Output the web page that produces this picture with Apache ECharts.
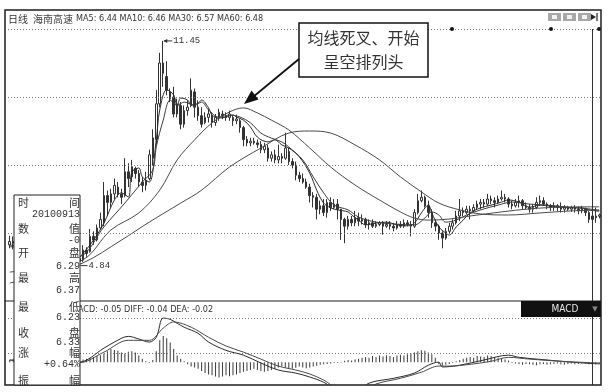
<!DOCTYPE html>
<html><head><meta charset="utf-8">
<script src="https://cdn.jsdelivr.net/npm/echarts@6/dist/echarts.min.js"></script>
<style>html,body{margin:0;padding:0;background:#fff}#c{width:610px;height:392px}</style>
</head><body><div id="c"></div><script>
// 海南高速 daily K-line with MA5/10/30/60 and MACD
const candles = [ // [open, close, low, high]
[5.45,5.55,5.35,5.72],[5.55,5.50,5.32,5.70],[5.50,5.60,5.42,5.68],[5.60,5.45,5.38,5.65],[5.45,5.40,5.30,5.52],
[5.40,5.35,5.25,5.48],[5.35,5.42,5.28,5.50],[5.42,5.30,5.22,5.46],[5.30,5.25,5.15,5.38],[5.25,5.20,5.10,5.32],
[5.20,5.28,5.14,5.36],[5.28,5.15,5.08,5.32],[5.15,5.10,5.02,5.22],[5.10,5.18,5.04,5.26],[5.18,5.05,4.98,5.22],
[5.05,5.00,4.92,5.12],[5.00,5.08,4.95,5.15],[5.08,4.98,4.90,5.12],[4.98,5.02,4.92,5.10],[5.02,4.95,4.88,5.06],
[4.98,5.05,4.84,5.10],[5.00,5.30,4.95,5.44],[5.30,5.20,5.10,5.38],[5.25,5.70,5.22,5.92],[5.70,5.60,5.45,5.85],
[5.60,5.95,5.55,6.05],[5.95,6.20,5.90,6.40],[6.10,6.90,6.00,7.30],[6.90,6.70,6.30,7.05],[6.70,6.95,6.55,7.10],
[6.95,7.20,6.80,7.40],[7.15,6.95,6.85,7.30],[6.95,6.85,6.65,7.10],[6.90,7.60,6.85,8.00],[7.60,7.40,7.15,7.85],
[7.45,7.75,7.30,7.95],[7.70,7.55,7.40,7.75],[7.55,7.30,7.15,7.65],[7.30,7.20,7.00,7.45],[7.20,7.35,7.05,7.60],
[7.40,8.10,7.35,8.25],[8.00,8.60,7.80,8.85],[8.55,9.60,8.40,10.00],[9.60,10.80,9.50,11.10],[10.80,10.50,10.10,11.45],
[10.40,10.00,9.85,10.85],[9.95,9.75,9.65,10.05],[9.80,9.30,9.20,10.10],[9.30,9.60,9.20,9.75],[9.55,9.00,8.85,9.65],
[9.00,9.40,8.90,9.55],[9.40,9.50,9.25,9.70],[9.55,10.00,9.50,10.35],[9.95,9.50,9.20,10.05],[9.50,9.25,9.10,9.70],
[9.25,9.00,8.90,9.50],[9.05,9.20,9.00,9.35],[9.20,9.30,9.05,9.45],[9.25,9.05,8.90,9.35],[9.05,9.20,8.95,9.30],
[9.20,9.35,9.10,9.45],[9.30,9.25,9.15,9.40],[9.25,9.20,9.10,9.35],[9.20,9.30,9.10,9.40],[9.20,9.10,8.95,9.25],
[9.10,9.15,9.00,9.28],[9.10,8.90,8.75,9.15],[8.90,8.55,8.35,8.95],[8.55,8.45,8.35,8.65],[8.45,8.50,8.35,8.60],
[8.50,8.45,8.40,8.60],[8.45,8.40,8.30,8.55],[8.40,8.25,8.15,8.50],[8.25,8.35,8.15,8.45],[8.30,8.00,7.90,8.40],
[8.00,8.10,7.90,8.20],[8.10,7.95,7.85,8.25],[7.95,8.05,7.85,8.40],[8.05,8.00,7.85,8.15],[8.00,8.30,7.95,8.75],
[8.20,7.90,7.80,8.30],[7.90,7.80,7.70,8.00],[7.80,7.50,7.35,7.90],[7.50,7.40,7.30,7.60],[7.40,7.30,7.25,7.55],
[7.30,7.15,7.10,7.40],[7.15,6.90,6.70,7.25],[6.90,6.85,6.55,7.00],[6.85,6.50,6.20,6.95],[6.50,6.60,6.35,6.75],
[6.60,6.40,6.30,6.80],[6.40,6.70,6.25,6.80],[6.70,6.55,6.45,6.85],[6.55,6.65,6.50,6.80],[6.65,6.50,6.20,6.80],
[6.50,6.20,5.60,6.30],[6.20,6.00,5.50,6.25],[6.00,6.20,5.90,6.30],[6.20,6.10,6.00,6.30],[6.10,6.25,6.00,6.45],
[6.25,6.15,6.00,6.40],[6.15,6.20,6.05,6.35],[6.20,6.05,5.95,6.25],[6.05,6.10,5.90,6.20],[6.10,6.00,5.95,6.20],
[6.00,6.05,5.95,6.15],[6.05,6.10,6.00,6.15],[6.10,6.00,5.75,6.15],[6.00,6.05,5.95,6.15],[6.05,6.00,5.90,6.15],
[6.00,5.95,5.85,6.10],[5.95,6.05,5.90,6.15],[6.05,6.00,5.95,6.15],[6.00,6.10,5.95,6.20],[6.10,6.05,6.00,6.18],
[6.05,6.00,5.70,6.15],[6.00,6.40,5.95,6.50],[6.40,6.75,6.35,6.95],[6.75,6.85,6.70,7.05],[6.85,6.60,6.55,6.90],
[6.60,6.40,6.25,6.75],[6.40,6.10,5.95,6.50],[6.10,6.00,5.85,6.20],[6.00,5.80,5.60,6.05],[5.80,5.65,5.35,5.85],
[5.65,5.85,5.60,5.95],[5.85,6.00,5.80,6.10],[6.00,6.10,5.90,6.20],[6.10,6.30,6.05,6.45],[6.30,6.45,6.15,6.80],
[6.45,6.40,6.30,6.55],[6.40,6.50,6.35,6.60],[6.50,6.45,6.20,6.60],[6.45,6.55,6.40,6.65],[6.55,6.65,6.50,6.75],
[6.65,6.70,6.50,6.80],[6.70,6.65,6.55,6.80],[6.65,6.80,6.60,6.95],[6.80,6.75,6.65,6.90],[6.75,6.70,6.55,6.85],
[6.70,6.80,6.65,6.90],[6.80,6.85,6.75,7.05],[6.85,6.80,6.70,6.95],[6.80,6.65,6.55,6.85],[6.65,6.60,6.50,6.75],
[6.60,6.70,6.55,6.80],[6.70,6.75,6.55,6.90],[6.75,6.60,6.50,6.80],[6.60,6.55,6.50,6.70],[6.55,6.50,6.40,6.65],
[6.50,6.55,6.40,6.65],[6.55,6.70,6.50,6.85],[6.70,6.75,6.60,6.90],[6.75,6.65,6.60,6.85],[6.65,6.60,6.50,6.70],
[6.60,6.55,6.45,6.65],[6.55,6.60,6.45,6.70],[6.60,6.55,6.45,6.65],[6.55,6.50,6.40,6.70],[6.50,6.55,6.40,6.62],
[6.55,6.50,6.45,6.60],[6.50,6.55,6.42,6.60],[6.55,6.50,6.40,6.62],[6.50,6.45,6.35,6.58],[6.45,6.50,6.38,6.60],
[6.50,6.40,6.30,6.55],[6.40,6.20,6.10,6.45],[6.20,6.30,5.95,6.35],[6.30,6.25,6.10,6.55],[6.29,6.33,6.23,6.37]
];

// moving averages, sampled as [day index, price]
const ma5 = [[0,5.45],[5,5.36],[10,5.22],[15,5.10],[19,5.02],[21,5.20],[24,5.59],[27,6.09],[30,6.77],[32,6.98],
[34,6.86],[35,7.59],[37,7.71],[38,7.45],[40,7.30],[42,8.54],[43,9.42],[45,10.01],[47,9.86],[48,9.51],[49,9.77],
[51,9.71],[52,9.56],[54,9.62],[55,9.71],[57,9.48],[58,9.27],[60,9.18],[62,9.21],[64,9.27],[65,9.21],[67,9.12],
[69,8.92],[71,8.62],[74,8.48],[76,8.54],[78,8.39],[80,8.30],[83,8.04],[86,7.56],[88,7.06],[90,6.68],[92,6.54],
[94,6.48],[97,6.42],[98,6.33],[100,6.18],[102,6.04],[105,6.09],[108,6.12],[111,6.04],[114,6.01],[116,6.09],
[118,6.39],[120,6.62],[121,6.39],[123,5.98],[125,5.80],[126,5.74],[128,5.98],[130,6.18],[132,6.39],[135,6.54],
[138,6.62],[141,6.71],[143,6.77],[146,6.71],[149,6.56],[152,6.62],[155,6.59],[158,6.56],[161,6.54],[164,6.54],
[166,6.48],[169,6.44]];
const ma10 = [[0,5.40],[6,5.33],[12,5.22],[18,5.10],[21,5.15],[27,5.98],[33,6.68],[38,7.30],[41,7.65],[42,8.33],
[44,9.12],[46,9.71],[48,9.56],[50,9.65],[53,9.56],[55,9.65],[57,9.42],[60,9.21],[63,9.27],[66,9.21],[69,9.04],
[72,8.74],[75,8.59],[78,8.48],[80,8.33],[84,7.95],[87,7.45],[90,6.98],[93,6.62],[97,6.48],[100,6.27],[105,6.12],
[111,6.06],[116,6.04],[119,6.24],[121,6.42],[123,6.33],[125,6.12],[128,6.18],[131,6.33],[135,6.48],[140,6.62],
[144,6.71],[149,6.65],[154,6.62],[160,6.56],[166,6.51],[169,6.46]];
const ma30 = [[0,4.65],[9,4.77],[21,5.01],[29,5.89],[37,6.39],[43,7.06],[48,7.95],[53,8.54],[58,9.04],[63,9.36],
[67,9.48],[71,9.33],[75,9.12],[80,8.83],[86,8.30],[92,7.74],[99,7.21],[106,6.77],[112,6.42],[116,6.24],[120,6.18],
[126,6.21],[132,6.30],[141,6.42],[149,6.51],[158,6.56],[169,6.57]];
const ma60 = [[0,4.33],[9,4.54],[21,4.92],[32,5.59],[40,6.12],[49,6.68],[55,7.06],[63,7.74],[72,8.30],[80,8.74],
[86,8.80],[92,8.74],[99,8.39],[106,7.95],[112,7.45],[118,7.01],[123,6.68],[129,6.48],[135,6.36],[143,6.33],
[152,6.39],[161,6.45],[169,6.48]];

// MACD lines, sampled as [day index, value]
const diff = [[0,0.05],[9,-0.02],[20,0.00],[27,0.32],[30,0.46],[34,0.59],[37,0.53],[40,0.46],[42,0.57],[44,1.01],
[46,0.98],[48,0.89],[50,0.80],[54,0.66],[57,0.46],[62,0.27],[67,0.16],[72,-0.02],[77,-0.18],[82,-0.25],[86,-0.34],
[90,-0.46],[95,-0.69],[99,-0.71],[103,-0.48],[110,-0.37],[116,-0.25],[120,-0.07],[123,0.00],[124,-0.11],
[129,-0.07],[136,0.05],[143,0.16],[146,0.11],[154,0.05],[161,0.00],[169,-0.04]];
const dea = [[0,0.05],[9,0.00],[20,-0.01],[27,0.23],[34,0.50],[40,0.50],[44,0.78],[47,0.92],[52,0.80],[57,0.57],
[62,0.37],[67,0.23],[72,0.07],[77,-0.09],[82,-0.18],[86,-0.27],[90,-0.41],[96,-0.69],[100,-0.71],[105,-0.50],
[112,-0.37],[118,-0.23],[123,-0.09],[126,-0.09],[132,-0.05],[138,0.02],[143,0.11],[149,0.07],[158,0.02],[169,-0.02]];
const macdHist = [
0.05,0.08,0.06,0.04,0.02,0.00,-0.02,-0.03,-0.04,-0.05,-0.04,-0.03,-0.02,-0.03,-0.02,-0.01,0.00,0.01,0.02,0.03,
0.04,0.06,0.08,0.10,0.12,0.14,0.16,
0.20,0.25,0.30,0.28,0.26,0.22,0.20,0.24,0.25,0.22,0.15,0.08,
0.02,-0.02,0.05,
0.25,0.50,0.60,0.55,0.45,0.30,0.15,
0.08,0.02,-0.05,-0.10,
-0.12,-0.15,-0.20,-0.25,-0.28,-0.30,-0.33,-0.35,-0.33,-0.30,-0.32,-0.30,-0.28,-0.25,-0.22,-0.20,-0.18,-0.15,-0.18,-0.20,
-0.22,-0.20,-0.18,-0.15,-0.12,-0.10,-0.12,-0.14,-0.15,-0.13,-0.10,-0.12,-0.14,-0.12,-0.10,-0.08,-0.06,-0.05,
-0.04,-0.03,-0.02,-0.02,0.01,0.03,0.05,0.04,0.06,
0.08,0.10,0.12,0.10,0.14,0.12,0.15,0.13,0.16,0.14,0.12,0.15,0.17,0.15,0.18,0.20,0.22,0.25,0.27,0.26,0.22,0.18,0.10,
-0.05,-0.08,-0.06,-0.04,-0.02,0.02,
0.05,0.08,0.10,0.12,0.10,0.14,0.13,0.12,0.15,0.14,0.12,0.10,0.08,0.06,0.04,
-0.02,-0.03,-0.05,-0.06,-0.04,-0.05,-0.06,-0.07,-0.05,-0.04,-0.06,-0.05,-0.04,-0.03,-0.05,-0.06,-0.04,-0.03,-0.05,-0.04,
-0.03,-0.04,-0.05,-0.06,-0.05,-0.05];

const peak = [44, 11.45];
const trough = [20, 4.84];
const priceGrid = [5.8, 7.8, 9.8, 11.8];
const macdGrid = [0.2, 1.0];
const headerText = 'MA5: 6.44 MA10: 6.46 MA30: 6.57 MA60: 6.48';
const macdTitle = 'MACD: -0.05 DIFF: -0.04 DEA: -0.02';
const infoLeft = ['时','数','开','最','最','收','涨','振'];
const infoRight = ['间','20100913','值','-0','盘','6.29','高','6.37','低','6.23','盘','6.33','幅','+0.64%','幅'];
const noteLines = ['均线死叉、开始','呈空排列头'];

const days = candles.map((_, i) => i);
const ink = '#2e2e2e';

const chart = echarts.init(document.getElementById('c'), null, {renderer: 'canvas'});

const dotted = (vals) => ({
  silent: true, symbol: 'none', animation: false,
  label: {show: false},
  lineStyle: {type: [1, 2], color: '#777', width: 1},
  data: vals.map(v => ({yAxis: v}))
});
const maLine = (name, data, color) => ({
  name, type: 'line', data, xAxisIndex: 0, yAxisIndex: 0,
  smooth: 0.35, showSymbol: false, silent: true,
  lineStyle: {width: 1, color}, z: 3
});
const hiddenAxis = {axisLine: {show: false}, axisTick: {show: false}, axisLabel: {show: false}, splitLine: {show: false}};

chart.setOption({
  animation: false,
  backgroundColor: '#fff',
  grid: [
    {left: 8, right: 9, top: 29, height: 272},
    {left: 8, right: 9, top: 301, height: 83}
  ],
  xAxis: [
    Object.assign({type: 'category', gridIndex: 0, data: days, boundaryGap: true}, hiddenAxis),
    Object.assign({type: 'category', gridIndex: 1, data: days, boundaryGap: true}, hiddenAxis)
  ],
  yAxis: [
    Object.assign({type: 'value', gridIndex: 0, min: 3.8, max: 11.8}, hiddenAxis),
    Object.assign({type: 'value', gridIndex: 1, min: -0.5, max: 1.4}, hiddenAxis)
  ],
  series: [
    {
      type: 'candlestick', data: candles, xAxisIndex: 0, yAxisIndex: 0,
      barWidth: 2, silent: true,
      itemStyle: {color: '#ffffff', color0: '#333333', borderColor: '#333333', borderColor0: '#333333', borderWidth: 1},
      markLine: dotted(priceGrid)
    },
    maLine('MA5', ma5, '#2a2a2a'),
    maLine('MA10', ma10, '#3c3c3c'),
    maLine('MA30', ma30, '#4a4a4a'),
    maLine('MA60', ma60, '#4a4a4a'),
    {
      type: 'bar', data: macdHist, xAxisIndex: 1, yAxisIndex: 1,
      barWidth: 1, silent: true, itemStyle: {color: '#3a3a3a'},
      markLine: dotted(macdGrid)
    },
    {type: 'line', name: 'DIFF', data: diff, xAxisIndex: 1, yAxisIndex: 1, smooth: 0.35, showSymbol: false, silent: true, lineStyle: {width: 1, color: '#2a2a2a'}},
    {type: 'line', name: 'DEA', data: dea, xAxisIndex: 1, yAxisIndex: 1, smooth: 0.35, showSymbol: false, silent: true, lineStyle: {width: 1, color: '#4a4a4a'}}
  ]
});

function txt(x, y, text, font, fill, align, z) {
  return {
    type: 'text', x, y, z: z || 110, silent: true,
    style: {text, font, fill: fill || ink, textAlign: align || 'left', align: align || 'left',
            textVerticalAlign: 'middle', verticalAlign: 'middle'}
  };
}
function line(x1, y1, x2, y2, w, color, z) {
  return {type: 'line', z: z || 105, silent: true, shape: {x1, y1, x2, y2},
          style: {stroke: color || ink, lineWidth: w || 1}};
}

const pk = chart.convertToPixel({xAxisIndex: 0, yAxisIndex: 0}, peak);
const tr = chart.convertToPixel({xAxisIndex: 0, yAxisIndex: 0}, trough);

const g = [];
// outer frame and panel separators
g.push({type: 'rect', z: 120, silent: true, shape: {x: 5, y: 10, width: 596, height: 375}, style: {fill: 'none', stroke: '#1e1e1e', lineWidth: 1.5}});
g.push(line(5, 301, 601, 301, 1.2, '#1e1e1e'));
g.push(line(592.5, 29, 592.5, 385, 1, '#333'));
// header
g.push(txt(8, 19, '日线', '10px "Noto Sans CJK SC"', '#333'));
g.push(txt(33, 19, '海南高速', '10px "Noto Sans CJK SC"', '#444'));
g.push(txt(76, 19, headerText, '9px "DejaVu Sans Condensed"', '#333'));
// toolbar buttons
[[548, 13], [563, 13], [578, 13]].forEach(([x, y]) => {
  g.push({type: 'rect', z: 110, silent: true, shape: {x, y, width: 13, height: 8}, style: {fill: '#a8a8a8'}});
  g.push({type: 'rect', z: 111, silent: true, shape: {x: x + 4, y: y + 2, width: 5, height: 4}, style: {fill: '#f2f2f2'}});
});
g.push({type: 'polygon', z: 111, silent: true, shape: {points: [[591, 14], [596, 17], [591, 20]]}, style: {fill: '#222'}});
g.push(line(597, 13, 597, 21, 1.2, '#222'));
// markers on the top rule
[452, 551, 599].forEach(x => g.push({type: 'circle', z: 112, silent: true, shape: {cx: x, cy: 29, r: 2}, style: {fill: '#111'}}));
// extreme price labels
g.push(line(pk[0] + 1, pk[1], pk[0] + 9, pk[1], 1, '#333'));
g.push({type: 'polygon', z: 106, silent: true, shape: {points: [[pk[0], pk[1]], [pk[0] + 4, pk[1] - 2], [pk[0] + 4, pk[1] + 2]]}, style: {fill: '#333'}});
g.push(txt(pk[0] + 10, pk[1], '11.45', '9px "Liberation Mono"', '#333'));
g.push(line(tr[0] + 1, tr[1], tr[0] + 8, tr[1], 1, '#333'));
g.push(txt(tr[0] + 9, tr[1], '4.84', '9px "Liberation Mono"', '#333'));
// MACD title and selector
g.push(txt(71, 310, macdTitle, '9px "DejaVu Sans Condensed"', '#333'));
g.push({type: 'rect', z: 115, silent: true, shape: {x: 521, y: 301, width: 80, height: 16}, style: {fill: '#111'}});
g.push(txt(565, 309.5, 'MACD', '10px "DejaVu Sans Condensed"', '#e8e8e8', 'center', 116));
g.push(txt(595, 309.5, '▼', '7px "DejaVu Sans"', '#888', 'center', 116));
// floating data window
g.push({type: 'rect', z: 130, silent: true, shape: {x: 14, y: 195, width: 66, height: 190}, style: {fill: '#fff', stroke: '#222', lineWidth: 1}});
const leftY = [203, 229, 253, 278, 307, 333, 353, 381];
infoLeft.forEach((t, k) => g.push(txt(18, leftY[k], t, '11px "Noto Sans CJK SC"', '#333', 'left', 131)));
const rightY = [203, 214, 229, 240, 253, 266, 278, 290, 307, 317, 333, 342, 353, 364, 381];
infoRight.forEach((t, k) => {
  const cjk = /[\u4e00-\u9fff]/.test(t);
  g.push(txt(80, rightY[k], t, cjk ? '11px "Noto Sans CJK SC"' : '10px "Liberation Mono"', '#333', 'right', 131));
});
// annotation callout
g.push({type: 'rect', z: 140, silent: true, shape: {x: 299, y: 23, width: 129, height: 54}, style: {fill: '#fff', stroke: '#111', lineWidth: 1.5}});
g.push(txt(363.5, 38, noteLines[0], '16px "Noto Sans CJK SC"', '#333', 'center', 141));
g.push(txt(363.5, 62, noteLines[1], '16px "Noto Sans CJK SC"', '#333', 'center', 141));
g.push(line(299, 59, 253, 97, 1.8, '#111', 141));
g.push({type: 'polygon', z: 141, silent: true, shape: {points: [[244, 104], [258.5, 99.5], [251.5, 90.5]]}, style: {fill: '#111'}});

chart.setOption({graphic: {elements: g}});
</script></body></html>
